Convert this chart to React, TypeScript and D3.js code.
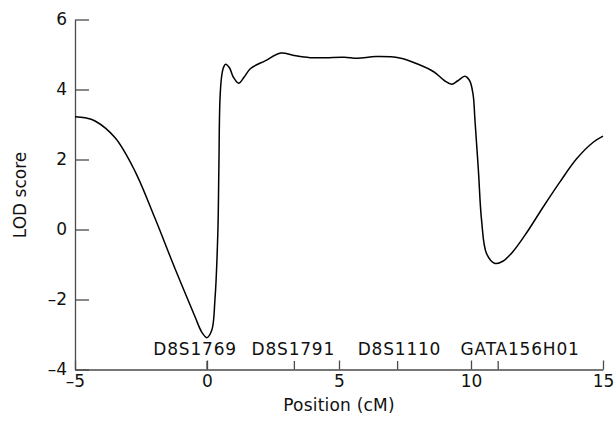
import React from 'react';
import { useRef, useEffect } from 'react';
import { select, line, curveCatmullRom, axisBottom, axisLeft, scaleLinear } from 'd3';

// LOD curve, position in cM
const positions = [-5, -4.62, -4.24, -3.48, -2.73, -1.97, -1.21, -0.45, -0.2, -0.01, 0.18, 0.3, 0.41, 0.45, 0.49, 0.55, 0.62, 0.7, 0.85, 1.0, 1.2, 1.4, 1.65, 2.2, 2.8, 3.3, 3.9, 4.5, 5.2, 5.7, 6.4, 7.3, 8.0, 8.6, 9.0, 9.27, 9.5, 9.77, 9.95, 10.08, 10.15, 10.28, 10.4, 10.59, 10.91, 11.22, 11.6, 12.1, 12.74, 13.37, 14.0, 14.64, 15];
const lod = [3.22, 3.19, 3.1, 2.62, 1.67, 0.32, -1.12, -2.5, -2.93, -3.09, -2.88, -2.02, -0.11, 1.79, 3.69, 4.35, 4.62, 4.72, 4.62, 4.35, 4.18, 4.35, 4.6, 4.82, 5.04, 4.97, 4.91, 4.91, 4.92, 4.89, 4.94, 4.9, 4.72, 4.5, 4.25, 4.15, 4.25, 4.38, 4.25, 3.85, 3.12, 1.69, 0.27, -0.69, -0.97, -0.9, -0.62, -0.1, 0.65, 1.36, 2.02, 2.5, 2.67];

const xTicks = [-5, 0, 5, 10, 15];
const yTicks = [-4, -2, 0, 2, 4, 6];

const markerNames = ['D8S1769', 'D8S1791', 'D8S1110', 'GATA156H01'];
const markerPos = [0, 3.31, 7.22, 11.03];
const markerLabelPos = [-0.45, 3.27, 7.29, 11.86];

const FONT = '"DejaVu Sans", sans-serif';

function App() {
    const svgRef = useRef<SVGSVGElement>(null);

    useEffect(() => {
        const svg = select(svgRef.current);
        const xScale = scaleLinear().domain([-5, 15]).range([75, 603]);
        const yScale = scaleLinear().domain([-4, 6]).range([369.5, 19.5]);

        const xAxis = axisBottom(xScale).tickValues(xTicks).tickSizeInner(-9).tickSizeOuter(0).tickPadding(5).tickFormat(d => String(d).replace('-', '\u2013'));
        const gx = svg.select('.x-axis').attr('transform', 'translate(0,369.5)').call(xAxis as any);
        const yAxis = axisLeft(yScale).tickValues(yTicks).tickSizeInner(-14).tickSizeOuter(0).tickPadding(8).tickFormat(d => String(d).replace('-', '\u2013'));
        const gy = svg.select('.y-axis').attr('transform', 'translate(75,0)').call(yAxis as any);

        [gx, gy].forEach(g => {
            g.selectAll('path,line').attr('stroke', '#4a4a4a').attr('stroke-width', 1.3);
            g.selectAll('text').attr('font-family', FONT).attr('font-size', 17).attr('fill', '#111');
        });

        svg.select('.markers').selectAll('line')
            .data(markerPos)
            .join('line')
            .attr('x1', d => xScale(d)).attr('x2', d => xScale(d))
            .attr('y1', 369.5).attr('y2', 361)
            .attr('stroke', '#4a4a4a').attr('stroke-width', 1.3);

        svg.select('.markers').selectAll('text')
            .data(markerNames)
            .join('text')
            .attr('x', (d, i) => xScale(markerLabelPos[i]))
            .attr('y', 355)
            .attr('text-anchor', 'middle')
            .attr('font-family', FONT).attr('font-size', 17).attr('letter-spacing', 0.8)
            .attr('fill', '#111')
            .text(d => d);

        const myLine = line<number>()
            .x((d, i) => xScale(positions[i]))
            .y(d => yScale(d))
            .curve(curveCatmullRom.alpha(0.5));
        svg.selectAll('.line')
            .data([lod])
            .join('path')
            .attr('class', 'line')
            .attr('d', myLine)
            .attr('stroke', '#000')
            .attr('stroke-width', 1.5)
            .attr('fill', 'none');
    }, []);

    return (
        <svg ref={svgRef} width={616} height={423} style={{ position: 'absolute', left: 0, top: 0, background: '#fff' }}>
            <g className="x-axis" />
            <g className="y-axis" />
            <g className="markers" />
            <text x={339} y={411} textAnchor="middle" fontFamily={FONT} fontSize={17} letterSpacing={0.2} fill="#111">Position (cM)</text>
            <text transform="translate(26,195) rotate(-90)" textAnchor="middle" fontFamily={FONT} fontSize={17} fill="#111">LOD score</text>
        </svg>
    );
}

export default App;
